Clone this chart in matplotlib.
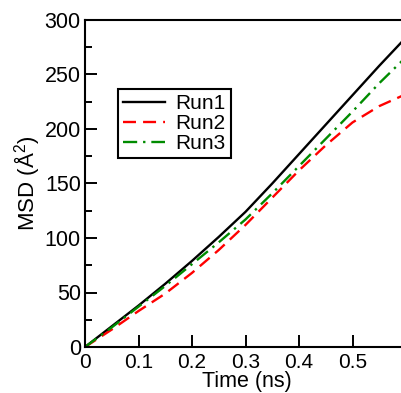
import matplotlib
matplotlib.use("Agg")
import matplotlib.pyplot as plt
from matplotlib.ticker import MultipleLocator

plt.rcParams['font.family'] = ['Liberation Sans', 'DejaVu Sans']
plt.rcParams['mathtext.fontset'] = 'custom'
plt.rcParams['mathtext.rm'] = 'Liberation Sans'
plt.rcParams['mathtext.it'] = 'Liberation Sans:italic'

time_ns = [0.0, 0.05, 0.1, 0.15, 0.2, 0.25, 0.3, 0.35, 0.4, 0.45, 0.5, 0.55, 0.6]
run1 = [0, 19, 38, 58, 79, 101, 124, 150, 177, 204, 231, 258, 284]
run2 = [0, 16, 33, 49, 68, 89, 112, 137, 162, 185, 206, 221, 232]
run3 = [0, 18, 37, 56, 76, 96, 117, 141, 166, 191, 216, 242, 266]
labels = ["Run1", "Run2", "Run3"]

fig = plt.figure(figsize=(4.01, 3.93), dpi=100)
ax = fig.add_axes([85/401, 46/393, 321/401, 327/393])

lw = 1.7
ax.plot(time_ns, run1, color='black', lw=lw, label=labels[0])
l2, = ax.plot(time_ns, run2, color='#ff0000', lw=lw, label=labels[1])
l2.set_dashes((5.5, 3))
l3, = ax.plot(time_ns, run3, color='#008b00', lw=lw, label=labels[2])
l3.set_dashes((6, 2.5, 1, 2.5))

ax.set_xlim(0, 0.6)
ax.set_ylim(0, 300)
ax.yaxis.set_major_locator(MultipleLocator(50))
ax.yaxis.set_minor_locator(MultipleLocator(25))
ax.set_xticks([0, 0.1, 0.2, 0.3, 0.4, 0.5])
ax.set_xticklabels(['0', '0.1', '0.2', '0.3', '0.4', '0.5'])
ax.tick_params(which='both', direction='in', top=False, right=False, width=1.4, labelsize=15.5)
ax.tick_params(axis='x', labelsize=15)
ax.tick_params(which='major', length=8.5)
ax.tick_params(which='minor', length=5)
ax.tick_params(axis='x', pad=4.5)
ax.tick_params(axis='y', pad=3)
for s in ax.spines.values():
    s.set_linewidth(1.5)

ax.set_xlabel('Time (ns)', fontsize=15.5)
ax.xaxis.set_label_coords(0.503, -0.074)
ax.set_ylabel('MSD (Å$^2$)', fontsize=16, labelpad=2)

leg = ax.legend(loc='upper left', bbox_to_anchor=(0.103, 0.789), borderaxespad=0,
                fancybox=False, fontsize=15, handlelength=2.0, handletextpad=0.5,
                labelspacing=0.05, borderpad=0.25, framealpha=1)
leg.get_frame().set_edgecolor('black')
leg.get_frame().set_linewidth(1.5)

fig.savefig('out.png', dpi=100)
